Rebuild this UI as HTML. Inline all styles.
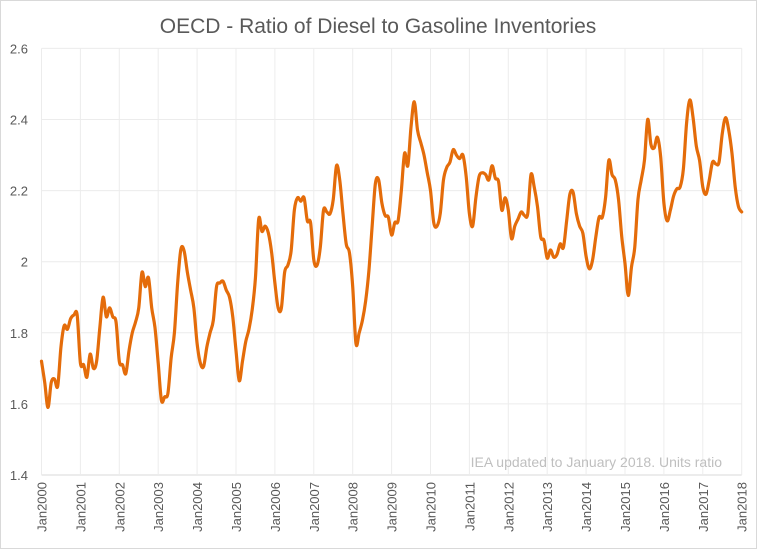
<!DOCTYPE html>
<html><head><meta charset="utf-8"><style>
html,body{margin:0;padding:0;background:#fff;}
svg{display:block;font-family:"Liberation Sans",sans-serif;}
</style></head><body>
<svg id="chart" width="757" height="549" viewBox="0 0 757 549">
<rect x="0.5" y="0.5" width="756" height="548" fill="#fff" stroke="#d9d9d9"/>
<text x="378" y="33" text-anchor="middle" font-size="21" fill="#595959">OECD - Ratio of Diesel to Gasoline Inventories</text>
<g id="grid"></g>
<g id="yticks"></g>
<g id="xticks"></g>
<path id="line" fill="none" stroke="#E46C0A" stroke-width="3.2" stroke-linejoin="round" stroke-linecap="round"/>
<text x="722" y="467" text-anchor="end" font-size="14" fill="#bfbfbf">IEA updated to January 2018. Units ratio</text>
</svg>
<script>
const yTicks = [1.4,1.6,1.8,2,2.2,2.4,2.6];
const yTickLabels = ["1.4","1.6","1.8","2","2.2","2.4","2.6"];
const xYears = [2000,2001,2002,2003,2004,2005,2006,2007,2008,2009,2010,2011,2012,2013,2014,2015,2016,2017,2018];
const ratioValues = [
1.72,1.66,1.59,1.66,1.67,1.65,1.76,1.82,1.81,1.84,1.85,1.85,
1.715,1.71,1.675,1.74,1.70,1.72,1.815,1.90,1.845,1.87,1.845,1.83,
1.72,1.71,1.685,1.75,1.80,1.83,1.87,1.97,1.93,1.955,1.87,1.815,
1.715,1.61,1.62,1.63,1.73,1.80,1.94,2.035,2.03,1.97,1.92,1.87,
1.77,1.715,1.705,1.76,1.80,1.835,1.93,1.94,1.945,1.92,1.90,1.845,
1.75,1.665,1.72,1.775,1.81,1.865,1.955,2.12,2.085,2.10,2.08,2.025,
1.94,1.87,1.87,1.97,1.99,2.03,2.145,2.18,2.17,2.18,2.115,2.11,
2.005,1.99,2.04,2.145,2.14,2.135,2.175,2.27,2.23,2.135,2.05,2.025,
1.93,1.77,1.80,1.835,1.89,1.975,2.10,2.22,2.23,2.165,2.13,2.125,
2.075,2.11,2.115,2.20,2.305,2.27,2.38,2.45,2.37,2.335,2.30,2.25,
2.20,2.11,2.10,2.135,2.23,2.265,2.28,2.315,2.30,2.29,2.30,2.24,
2.135,2.10,2.18,2.24,2.25,2.245,2.23,2.27,2.235,2.225,2.145,2.18,
2.145,2.065,2.10,2.12,2.14,2.13,2.135,2.245,2.21,2.155,2.07,2.06,
2.01,2.033,2.013,2.02,2.05,2.04,2.115,2.19,2.195,2.135,2.10,2.08,
2.015,1.98,2.005,2.07,2.125,2.125,2.18,2.285,2.245,2.23,2.175,2.07,
1.995,1.905,1.985,2.04,2.175,2.23,2.285,2.40,2.33,2.32,2.35,2.295,
2.165,2.115,2.145,2.185,2.205,2.21,2.26,2.39,2.455,2.405,2.325,2.285,
2.21,2.19,2.23,2.28,2.275,2.28,2.36,2.405,2.37,2.305,2.21,2.155,
2.14];
const NS='http://www.w3.org/2000/svg';
const X0=41.5, X1=741.7, Y0=475, Y1=48.4, VMIN=1.4, VMAX=2.6;
function xScale(monthIdx){return X0+(X1-X0)*monthIdx/216;}
function yScale(v){return Y0-(v-VMIN)/(VMAX-VMIN)*(Y0-Y1);}
const grid=document.getElementById('grid');
const yt=document.getElementById('yticks');
const xt=document.getElementById('xticks');
yTicks.forEach((v,i)=>{
  const y=yScale(v);
  const l=document.createElementNS(NS,'line');
  l.setAttribute('x1',X0);l.setAttribute('x2',X1);l.setAttribute('y1',y);l.setAttribute('y2',y);
  l.setAttribute('stroke',i===0?'#d9d9d9':'#ececec');l.setAttribute('stroke-width','1');
  
  
  grid.appendChild(l);
  const t=document.createElementNS(NS,'text');
  t.setAttribute('x',28);t.setAttribute('y',y+5);t.setAttribute('text-anchor','end');
  t.setAttribute('font-size','13');t.setAttribute('fill','#595959');
  t.textContent=yTickLabels[i];
  
  
  yt.appendChild(t);
});
xYears.forEach((yr,i)=>{
  const x=xScale((yr-2000)*12);
  const l=document.createElementNS(NS,'line');
  l.setAttribute('x1',x);l.setAttribute('x2',x);l.setAttribute('y1',Y1);l.setAttribute('y2',Y0);
  l.setAttribute('stroke','#ececec');l.setAttribute('stroke-width','1');
  
  
  grid.appendChild(l);
  const t=document.createElementNS(NS,'text');
  t.setAttribute('transform','translate('+(x+5)+',482) rotate(-90)');
  t.setAttribute('text-anchor','end');
  t.setAttribute('font-size','13');t.setAttribute('fill','#595959');
  t.textContent='Jan'+yr;
  
  
  xt.appendChild(t);
});
const pts=ratioValues.map((v,i)=>[xScale(i),yScale(v)]);
let d='M'+pts[0][0].toFixed(2)+','+pts[0][1].toFixed(2);
for(let i=0;i<pts.length-1;i++){
  const p0=pts[Math.max(0,i-1)],p1=pts[i],p2=pts[i+1],p3=pts[Math.min(pts.length-1,i+2)];
  const c1x=p1[0]+(p2[0]-p0[0])/6,c1y=p1[1]+(p2[1]-p0[1])/6;
  const c2x=p2[0]-(p3[0]-p1[0])/6,c2y=p2[1]-(p3[1]-p1[1])/6;
  d+=' C'+c1x.toFixed(2)+','+c1y.toFixed(2)+' '+c2x.toFixed(2)+','+c2y.toFixed(2)+' '+p2[0].toFixed(2)+','+p2[1].toFixed(2);
}
document.getElementById('line').setAttribute('d',d);
</script>
</body></html>
